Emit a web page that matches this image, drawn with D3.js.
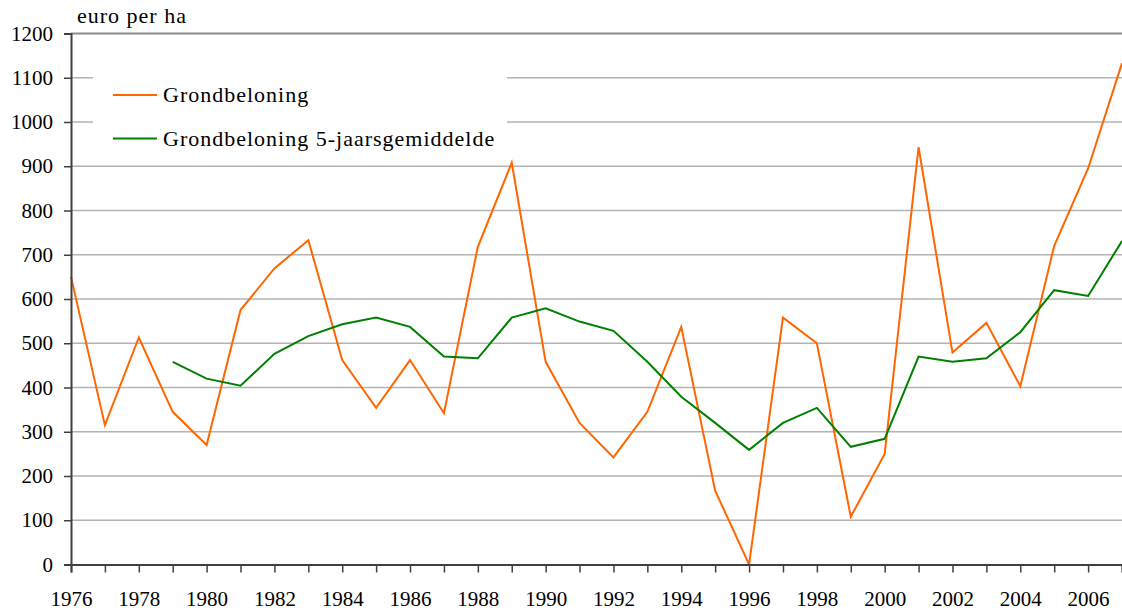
<!DOCTYPE html>
<html>
<head>
<meta charset="utf-8">
<script src="https://cdn.jsdelivr.net/npm/d3@7"></script>
</head>
<body style="margin:0">
<script>
var width = 1122, height = 613;
var margin = {left: 71, right: 0, top: 33.5, bottom: 48.5};
var serif = "'Liberation Serif'";

// data
var years = d3.range(1976, 2008);
var grond = [650, 315, 513, 345, 270, 575, 669, 733, 462, 354, 462, 342, 718, 908, 458, 320,
             242, 345, 537, 167, 0, 558, 500, 108, 250, 943, 479, 546, 403, 720, 895, 1133];
var gemYears = d3.range(1979, 2008);
var gem = [458, 420, 404, 476, 516, 543, 558, 537, 470, 466, 558, 579, 549, 528, 458, 379,
           320, 259, 320, 354, 266, 284, 470, 458, 466, 525, 620, 607, 731];
var yTicks = d3.range(0, 1300, 100);
var seriesNames = ["Grondbeloning", "Grondbeloning 5-jaarsgemiddelde"];
var seriesColors = ["#ff6600", "#008000"];

var xScale = d3.scaleLinear()
               .domain([1976, 2007])
               .range([margin.left, width - margin.right]);

var yScale = d3.scaleLinear()
               .domain([0, 1200])
               .range([height - margin.bottom, margin.top]);

var svg = d3.select("body")
            .append("svg")
            .attr("width", width)
            .attr("height", height)
            .style("font-family", serif);

//gridlines
svg.append("g")
   .selectAll("line")
   .data(yTicks.filter(function(d){ return d > 0; }))
   .enter()
   .append("line")
   .attr("x1", margin.left)
   .attr("x2", width)
   .attr("y1", function(d){ return yScale(d); })
   .attr("y2", function(d){ return yScale(d); })
   .attr("stroke", function(d){ return d == 1200 ? "#8c8c8c" : "#b3b3b3"; })
   .attr("stroke-width", function(d){ return d == 1200 ? 2 : 1.5; });

//legend background hides gridlines
svg.append("rect")
   .attr("x", 93)
   .attr("y", 58)
   .attr("width", 414)
   .attr("height", 100)
   .attr("fill", "#fff");

//lines
var line = d3.line()
             .x(function(d){ return xScale(d[0]); })
             .y(function(d){ return yScale(d[1]); });

svg.append("path")
   .datum(years.map(function(y, i){ return [y, grond[i]]; }))
   .attr("d", line)
   .attr("fill", "none")
   .attr("stroke", seriesColors[0])
   .attr("stroke-width", 2);

svg.append("path")
   .datum(gemYears.map(function(y, i){ return [y, gem[i]]; }))
   .attr("d", line)
   .attr("fill", "none")
   .attr("stroke", seriesColors[1])
   .attr("stroke-width", 2);

//axes
var xAxis = d3.axisBottom(xScale)
              .tickValues(years)
              .tickSize(8)
              .tickPadding(19)
              .tickFormat(function(d){ return d % 2 == 0 ? d : ""; });

var yAxis = d3.axisLeft(yScale)
              .tickValues(yTicks)
              .tickSize(7)
              .tickPadding(11)
              .tickFormat(d3.format("d"));

var gx = svg.append("g")
            .attr("transform", "translate(0," + yScale(0) + ")")
            .call(xAxis);

var gy = svg.append("g")
            .attr("transform", "translate(" + margin.left + ",0)")
            .call(yAxis);

[gx, gy].forEach(function(g){
    g.attr("font-family", null).attr("font-size", null);
    g.select(".domain").attr("stroke", "#404040").attr("stroke-width", 2);
    g.selectAll(".tick line").attr("stroke", "#404040").attr("stroke-width", 1.5);
    g.selectAll(".tick text")
     .style("font-family", serif)
     .attr("font-size", 21)
     .attr("fill", "#000");
});

//unit label
svg.append("text")
   .attr("x", 77)
   .attr("y", 23)
   .style("font-family", serif)
   .attr("font-size", 22)
   .attr("letter-spacing", 1)
   .text("euro per ha");

//legend
var legend = svg.append("g")
                .selectAll("g")
                .data(seriesNames)
                .enter()
                .append("g")
                .attr("transform", function(d, i){ return "translate(113," + (95 + i * 43.5) + ")"; });

legend.append("line")
      .attr("x1", 0)
      .attr("x2", 44)
      .attr("stroke", function(d, i){ return seriesColors[i]; })
      .attr("stroke-width", 2);

legend.append("text")
      .attr("x", 50)
      .attr("y", 7)
      .style("font-family", serif)
      .attr("font-size", 22)
      .attr("letter-spacing", 1)
      .text(function(d){ return d; });
</script>
</body>
</html>
